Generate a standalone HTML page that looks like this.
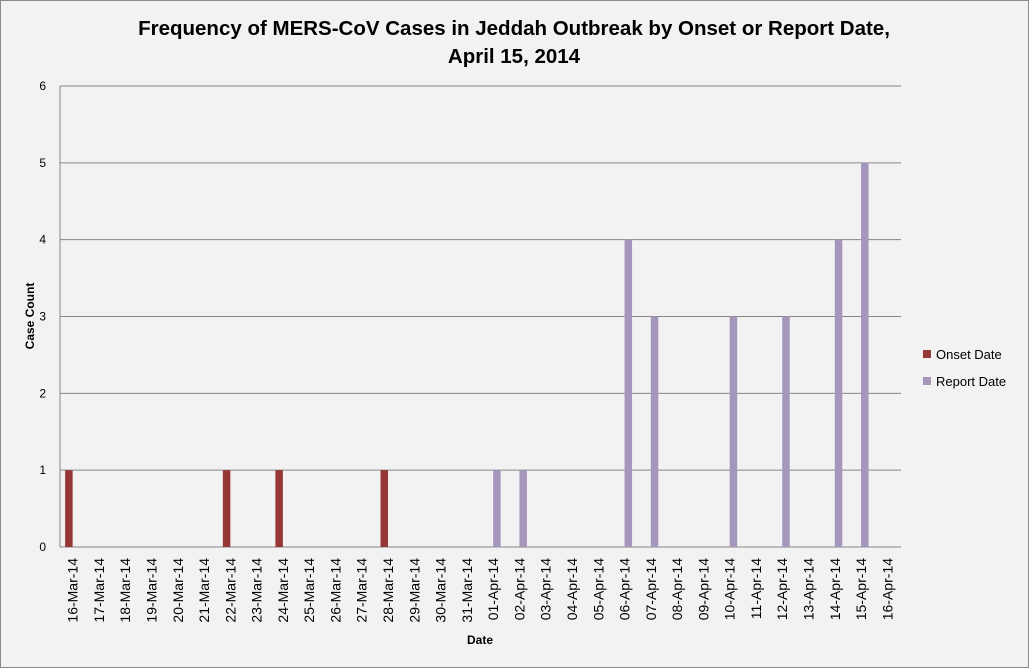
<!DOCTYPE html>
<html><head><meta charset="utf-8"><style>
body{margin:0;background:#f2f2f2;}
svg{display:block;font-family:"Liberation Sans",sans-serif;}
</style></head><body>
<svg id="c" width="1029" height="668">
<rect x="0.5" y="0.5" width="1028" height="667" fill="#f2f2f2" stroke="#8a8a8a"/>
<text x="514" y="35" text-anchor="middle" font-size="20.5" font-weight="bold" fill="#000">Frequency of MERS-CoV Cases in Jeddah Outbreak by Onset or Report Date,</text>
<text x="514" y="63" text-anchor="middle" font-size="20.5" font-weight="bold" fill="#000">April 15, 2014</text>
<text transform="translate(34,316) rotate(-90)" text-anchor="middle" font-size="12" font-weight="bold">Case Count</text>
<text x="480" y="644" text-anchor="middle" font-size="12" font-weight="bold">Date</text>
<g id="grid"></g><g id="bars"></g><g id="xl"></g>
<rect x="923" y="350" width="8" height="8" fill="#953735"/>
<text x="936" y="359" font-size="13">Onset Date</text>
<rect x="923" y="377" width="8" height="8" fill="#a597bb"/>
<text x="936" y="386" font-size="13">Report Date</text>
</svg>
<script>
const categories=["16-Mar-14","17-Mar-14","18-Mar-14","19-Mar-14","20-Mar-14","21-Mar-14","22-Mar-14","23-Mar-14","24-Mar-14","25-Mar-14","26-Mar-14","27-Mar-14","28-Mar-14","29-Mar-14","30-Mar-14","31-Mar-14","01-Apr-14","02-Apr-14","03-Apr-14","04-Apr-14","05-Apr-14","06-Apr-14","07-Apr-14","08-Apr-14","09-Apr-14","10-Apr-14","11-Apr-14","12-Apr-14","13-Apr-14","14-Apr-14","15-Apr-14","16-Apr-14"];
const onset=[1,0,0,0,0,0,1,0,1,0,0,0,1,0,0,0,0,0,0,0,0,0,0,0,0,0,0,0,0,0,0,0];
const report=[0,0,0,0,0,0,0,0,0,0,0,0,0,0,0,0,1,1,0,0,0,4,3,0,0,3,0,3,0,4,5,0];
const yTicks=[0,1,2,3,4,5,6];
const NS="http://www.w3.org/2000/svg";
const X0=60,X1=901,Y0=547,Y1=86,YMAX=6;
const bw=(X1-X0)/categories.length;
const xc=i=>X0+(i+0.5)*bw;
const y=v=>Y0-(v/YMAX)*(Y0-Y1);
function mk(tag,attrs,parent){const e=document.createElementNS(NS,tag);for(const k in attrs)e.setAttribute(k,attrs[k]);parent.appendChild(e);return e;}
const grid=document.getElementById('grid'),bars=document.getElementById('bars'),xl=document.getElementById('xl');
yTicks.forEach(t=>{
 const l=mk('line',{x1:X0,x2:X1,y1:y(t),y2:y(t),stroke:'#868686','stroke-width':1},grid);
 
 
 const tx=mk('text',{x:46,y:y(t)+4,'text-anchor':'end','font-size':12},grid);
 tx.textContent=t;
 
 
});
const ax=mk('line',{x1:X0,x2:X0,y1:Y1,y2:Y0,stroke:'#868686'},grid);


categories.forEach((c,i)=>{
 if(onset[i]>0){const r=mk('rect',{x:xc(i)-8,y:y(onset[i]),width:7.5,height:Y0-y(onset[i]),fill:'#953735'},bars);
  
  }
 if(report[i]>0){const r=mk('rect',{x:xc(i)-0.5,y:y(report[i]),width:7.5,height:Y0-y(report[i]),fill:'#a597bb'},bars);
  
  }
 const t=mk('text',{transform:`translate(${xc(i)+4.5},558) rotate(-90)`,'text-anchor':'end','font-size':14},xl);
 t.textContent=c;
 
 
});
</script>
</body></html>
